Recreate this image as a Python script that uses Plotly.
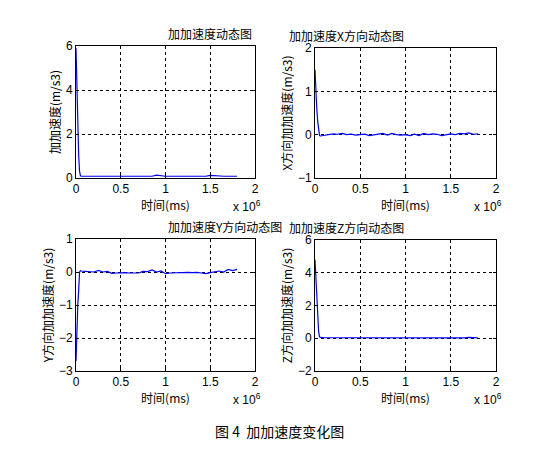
import plotly.graph_objects as go

# time (x 10^6 ms)
t = [0, 0.005, 0.01, 0.02, 0.03, 0.04, 0.05, 0.06,
     0.1, 0.15, 0.2, 0.25, 0.3, 0.35, 0.4, 0.45, 0.5, 0.55, 0.6, 0.65,
     0.7, 0.75, 0.8, 0.85, 0.9, 0.95, 1.0, 1.05, 1.1, 1.15, 1.2, 1.25,
     1.3, 1.35, 1.4, 1.45, 1.5, 1.55, 1.6, 1.65, 1.7, 1.75, 1.8]
jerk = [5.9, 5.0, 3.8, 2.6, 1.0, 0.3, 0.1, 0.08,
        0.08, 0.08, 0.08, 0.07, 0.07, 0.08, 0.08, 0.08, 0.09, 0.08, 0.08, 0.08,
        0.08, 0.08, 0.08, 0.08, 0.13, 0.09, 0.08, 0.08, 0.08, 0.08, 0.09, 0.08,
        0.07, 0.08, 0.08, 0.08, 0.12, 0.10, 0.08, 0.08, 0.08, 0.08, 0.08]
jerk_x = [1.5, 1.2, 0.9, 0.6, 0.3, 0.05, -0.02, -0.03,
          -0.02, -0.01, 0.02, 0.01, 0.03, 0.0, 0.01, -0.01, 0.0, 0.01, -0.02, 0.0,
          0.02, 0.03, -0.01, 0.03, 0.0, -0.01, 0.0, -0.02, 0.01, -0.02, 0.03, 0.0,
          0.02, 0.01, -0.02, 0.0, 0.02, 0.0, 0.03, 0.02, 0.04, 0.01, 0.02]
jerk_y = [-2.7, -2.2, -1.7, -1.0, -0.55, 0.0, 0.04, 0.03,
          0.02, 0.02, 0.0, 0.05, 0.0, 0.02, -0.04, -0.03, -0.02, -0.02, -0.03, -0.03,
          -0.03, 0.02, 0.01, 0.06, 0.0, 0.03, -0.05, -0.03, -0.02, -0.02, -0.02, -0.01,
          -0.02, -0.01, -0.03, -0.05, -0.02, 0.0, 0.03, 0.0, 0.08, 0.04, 0.08]
jerk_z = [4.8, 4.2, 3.4, 2.3, 1.2, 0.4, 0.08, 0.05,
          0.03, 0.03, 0.0, 0.02, 0.02, 0.03, 0.01, 0.02, 0.01, 0.0, 0.0, 0.0,
          0.03, 0.02, 0.02, 0.0, 0.01, 0.01, 0.03, 0.0, 0.02, 0.01, 0.02, 0.03,
          0.0, 0.0, -0.01, 0.0, -0.01, -0.01, 0.0, 0.02, 0.05, 0.04, 0.02]

titles = ["加加速度动态图", "加加速度X方向动态图", "加加速度Y方向动态图", "加加速度Z方向动态图"]
ylabels = ["加加速度(m/s3)", "X方向加加速度(m/s3)", "Y方向加加速度(m/s3)", "Z方向加加速度(m/s3)"]
series = [jerk, jerk_x, jerk_y, jerk_z]
yranges = [[0, 6], [-1, 2], [-3, 1], [-2, 6]]
ydticks = [2, 1, 1, 2]

W, H = 542, 470
boxes = [(68, 247, 38, 170), (307, 488, 40, 170), (68, 247, 231, 363), (307, 488, 232, 363)]

CJK = "Noto Sans CJK SC"
fig = go.Figure()
for i, (ys, box) in enumerate(zip(series, boxes)):
    n = "" if i == 0 else str(i + 1)
    x0, x1, y0, y1 = box
    fig.add_trace(go.Scatter(x=[v * 1e6 for v in t], y=ys, mode="lines",
                             line=dict(color="#0000ff", width=1.2),
                             xaxis="x" + n, yaxis="y" + n, showlegend=False))
    common = dict(showline=True, linecolor="black", linewidth=1, mirror="ticks",
                  ticks="inside", ticklen=3, tickcolor="black", automargin=False,
                  showgrid=True, gridcolor="black", griddash="3px,3px", gridwidth=1,
                  zeroline=False, tickfont=dict(family="Liberation Sans", size=12, color="black"))
    fig.update_layout(**{
        "xaxis" + n: dict(common, domain=[x0 / W, x1 / W], anchor="y" + n,
                          range=[0, 2e6], tickvals=[0, 0.5e6, 1e6, 1.5e6, 2e6],
                          ticktext=["0", "0.5", "1", "1.5", "2"],
                          title=dict(text="时间(ms)", standoff=2,
                                     font=dict(family=CJK, size=12, color="black"))),
        "yaxis" + n: dict(common, domain=[1 - y1 / H, 1 - y0 / H], anchor="x" + n,
                          range=yranges[i], dtick=ydticks[i],
                          title=dict(text=ylabels[i], standoff=2,
                                     font=dict(family=CJK, size=12, color="black"))),
    })
    fig.add_annotation(text=titles[i], x=(x0 + x1) / 2 / W, y=1 - (y0 - 2) / H,
                       xref="paper", yref="paper", showarrow=False, yanchor="bottom",
                       font=dict(family=CJK, size=12, color="black"))
    fig.add_annotation(text="x 10<sup>6</sup>", x=(x1 + 8) / W, y=1 - (y1 + 28) / H,
                       xref="paper", yref="paper", showarrow=False, xanchor="right",
                       yanchor="middle",
                       font=dict(family="Liberation Sans", size=12, color="black"))

fig.add_annotation(text="图 4  加加速度变化图", x=0.5, y=1 - 435 / H, xref="paper", yref="paper",
                   showarrow=False, font=dict(family=CJK, size=14, color="black"))
fig.update_layout(width=W, height=H, margin=dict(l=0, r=0, t=0, b=0),
                  paper_bgcolor="white", plot_bgcolor="white")
fig.write_html("out.html")
